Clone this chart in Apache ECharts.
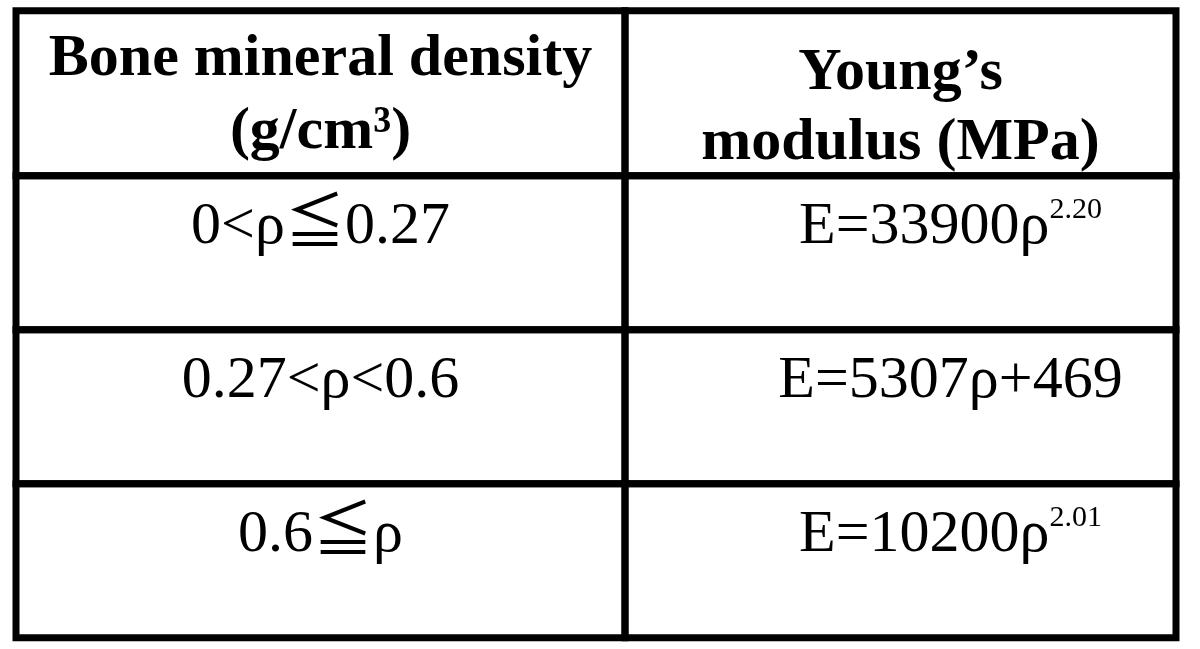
<!DOCTYPE html>
<html>
<head>
<meta charset="utf-8">
<script src="https://cdn.jsdelivr.net/npm/echarts@6/dist/echarts.min.js"></script>
<style>
html,body{margin:0;padding:0;background:#fff;}
#chart{width:1200px;height:649px;}
</style>
</head>
<body>
<div id="chart"></div>
<script>
// ---- table content ----
const columnHeaders = ['Bone mineral density\n(g/cm³)', 'Young’s\nmodulus (MPa)'];
const densityRanges = ['0<ρ≦0.27', '0.27<ρ<0.6', '0.6≦ρ'];
const modulusCoefficients = ['33900', '5307', '10200'];
const modulusIntercepts = ['', '469', ''];
const modulusExponents = ['2.20', '', '2.01'];

// ---- layout (axis units = pixels inside grid) ----
const colEdges = [0, 609, 1160];
const rowEdges = [0, 165, 319, 473, 627];
const FONT = "'Liberation Serif', 'Times New Roman', 'Noto Sans CJK JP', 'DejaVu Serif', serif";

function formula(i) {
  let main = 'E=' + modulusCoefficients[i] + 'ρ';
  if (modulusIntercepts[i]) main += '+' + modulusIntercepts[i];
  let s = '{m|' + main + '}';
  if (modulusExponents[i]) s += '{s|' + modulusExponents[i] + '}';
  return s;
}

// cells: [col, row, text, kind]
const cells = [];
columnHeaders.forEach((h, c) => cells.push([c, 0, h, 'header']));
densityRanges.forEach((r, i) => {
  cells.push([0, i + 1, r, 'range']);
  cells.push([1, i + 1, formula(i), 'formula']);
});

const chart = echarts.init(document.getElementById('chart'), null, {renderer: 'canvas'});

const option = {
  backgroundColor: '#ffffff',
  animation: false,
  grid: {left: 16, right: 24, top: 10.7, bottom: 11.3},
  xAxis: {type: 'value', min: 0, max: colEdges[colEdges.length - 1], show: false},
  yAxis: {type: 'value', min: 0, max: rowEdges[rowEdges.length - 1], inverse: true, show: false},
  series: [{
    type: 'custom',
    silent: true,
    clip: false,
    data: cells.map(c => [c[0], c[1]]),
    renderItem: function (params, api) {
      const cell = cells[params.dataIndex];
      const col = cell[0], row = cell[1];
      const p0 = api.coord([colEdges[col], rowEdges[row]]);
      const p1 = api.coord([colEdges[col + 1], rowEdges[row + 1]]);
      const cx = (p0[0] + p1[0]) / 2;
      const children = [{
        type: 'rect',
        shape: {x: p0[0], y: p0[1], width: p1[0] - p0[0], height: p1[1] - p0[1]},
        style: {fill: 'none', stroke: '#000', lineWidth: 7}
      }];
      let textEl;
      if (cell[3] === 'header') {
        const off = col === 0 ? {y: 85, lh: 73} : {y: 97.5, lh: 70};
        textEl = {
          type: 'text', x: cx, y: p0[1] + off.y,
          style: {text: cell[2], fill: '#000', font: 'bold 60px ' + FONT,
                  lineHeight: off.lh, align: 'center', verticalAlign: 'middle'}
        };
      } else if (cell[3] === 'range') {
        textEl = {
          type: 'text', x: cx, y: p0[1] + 52,
          style: {text: cell[2], fill: '#000', font: '60px ' + FONT,
                  align: 'center', verticalAlign: 'middle'}
        };
      } else {
        textEl = {
          type: 'text', x: cx + 50, y: p0[1] + 52,
          style: {
            text: cell[2], fill: '#000', align: 'center', verticalAlign: 'middle',
            rich: {
              m: {fontFamily: FONT, fontSize: 60, lineHeight: 66, fill: '#000'},
              s: {fontFamily: FONT, fontSize: 30, lineHeight: 50, verticalAlign: 'top', fill: '#000'}
            }
          }
        };
      }
      children.push(textEl);
      return {type: 'group', children: children};
    }
  }]
};
chart.setOption(option);
</script>
</body>
</html>
